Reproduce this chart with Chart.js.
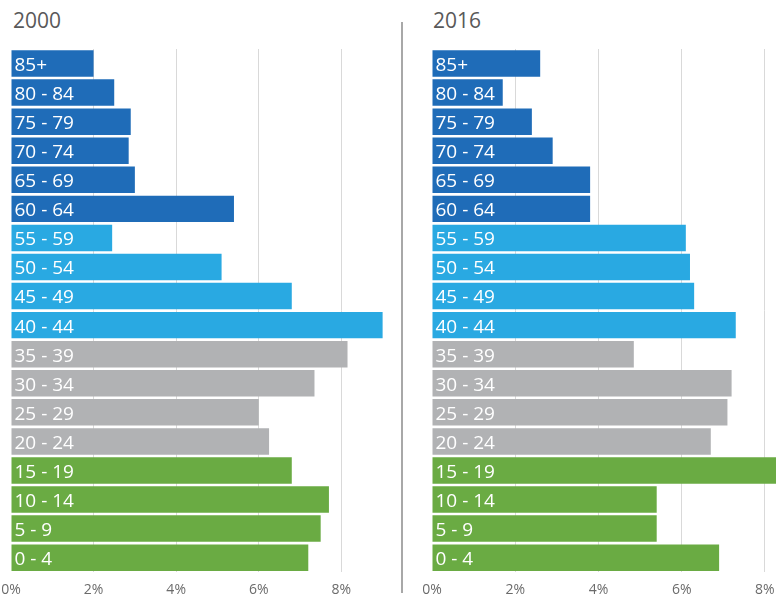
<!DOCTYPE html>
<html>
<head>
<meta charset="utf-8">
<script src="https://cdn.jsdelivr.net/npm/chart.js@4"></script>
<style>
    html, body { margin: 0; padding: 0; background: #fff; overflow: hidden; }
    body { width: 776px; height: 597px; position: relative; font-family: "Open Sans", sans-serif; }
    .title { position: absolute; top: 6px; font-size: 21px; color: #595959; }
    .box { position: absolute; top: 0; height: 607px; }
    .divider { position: absolute; left: 401px; top: 22px; width: 2px; height: 571px; background: #a8a8a8; }
</style>
</head>
<body>
<div class="title" style="left: 13px;">2000</div>
<div class="title" style="left: 433px;">2016</div>
<div class="divider"></div>
<div class="box" style="left: 0; width: 400px;"><canvas id="chart2000"></canvas></div>
<div class="box" style="left: 420px; width: 390px;"><canvas id="chart2016"></canvas></div>

<script>
const ageGroups = ["85+", "80 - 84", "75 - 79", "70 - 74", "65 - 69", "60 - 64",
    "55 - 59", "50 - 54", "45 - 49", "40 - 44",
    "35 - 39", "30 - 34", "25 - 29", "20 - 24",
    "15 - 19", "10 - 14", "5 - 9", "0 - 4"];
const share2000 = [2.0, 2.5, 2.9, 2.85, 3.0, 5.4, 2.45, 5.1, 6.8, 9.0, 8.15, 7.35, 6.0, 6.25, 6.8, 7.7, 7.5, 7.2];
const share2016 = [2.6, 1.7, 2.4, 2.9, 3.8, 3.8, 6.1, 6.2, 6.3, 7.3, 4.85, 7.2, 7.1, 6.7, 8.6, 5.4, 5.4, 6.9];
const xTicks = [0, 2, 4, 6, 8];

const darkBlue = "#1f6cb8";
const lightBlue = "#29a9e2";
const grey = "#b1b2b4";
const green = "#6aab43";
const barColors = ageGroups.map((g, i) => i < 6 ? darkBlue : i < 10 ? lightBlue : i < 14 ? grey : green);

// writes the age group inside each bar, near its base
const insideLabels = {
    id: "insideLabels",
    afterDatasetsDraw(chart) {
        const ctx = chart.ctx;
        const meta = chart.getDatasetMeta(0);
        ctx.save();
        ctx.font = "19px 'Open Sans'";
        ctx.fillStyle = "#ffffff";
        ctx.textBaseline = "middle";
        meta.data.forEach((bar, i) => {
            ctx.fillText(chart.data.labels[i], bar.base + 3, bar.y + 2);
        });
        ctx.restore();
    }
};

function makeChart(id, values, max, pad) {
    new Chart(document.getElementById(id), {
        type: "bar",
        data: {
            labels: ageGroups,
            datasets: [{
                data: values,
                backgroundColor: barColors,
                borderWidth: 0,
                barPercentage: 1,
                categoryPercentage: 0.91
            }]
        },
        options: {
            indexAxis: "y",
            responsive: false,
            animation: false,
            maintainAspectRatio: false,
            layout: { padding: pad },
            plugins: {
                legend: { display: false },
                tooltip: { enabled: false }
            },
            scales: {
                y: { display: false },
                x: {
                    min: 0,
                    max: max,
                    afterBuildTicks: axis => { axis.ticks = xTicks.map(v => ({ value: v })); },
                    // the tick labels shouldn't push the plot area inwards
                    afterFit: axis => { axis.paddingLeft = 0; axis.paddingRight = 0; },
                    border: { display: false },
                    grid: {
                        drawTicks: false,
                        color: c => c.tick && c.tick.value === 0 ? "rgba(0,0,0,0)" : "#d9d9d9",
                        lineWidth: 1
                    },
                    ticks: {
                        padding: 9,
                        color: "#6b6b6b",
                        font: { family: "'Open Sans'", size: 14 },
                        callback: v => v + "%"
                    }
                }
            }
        },
        plugins: [insideLabels]
    });
}

const c1 = document.getElementById("chart2000");
c1.width = 400; c1.height = 607;
const c2 = document.getElementById("chart2016");
c2.width = 390; c2.height = 607;

makeChart("chart2000", share2000, 9.3, { top: 49, left: 11, right: 5, bottom: 0 });
makeChart("chart2016", share2016, 9, { top: 49, left: 12, right: 3.5, bottom: 0 });
</script>
</body>
</html>
